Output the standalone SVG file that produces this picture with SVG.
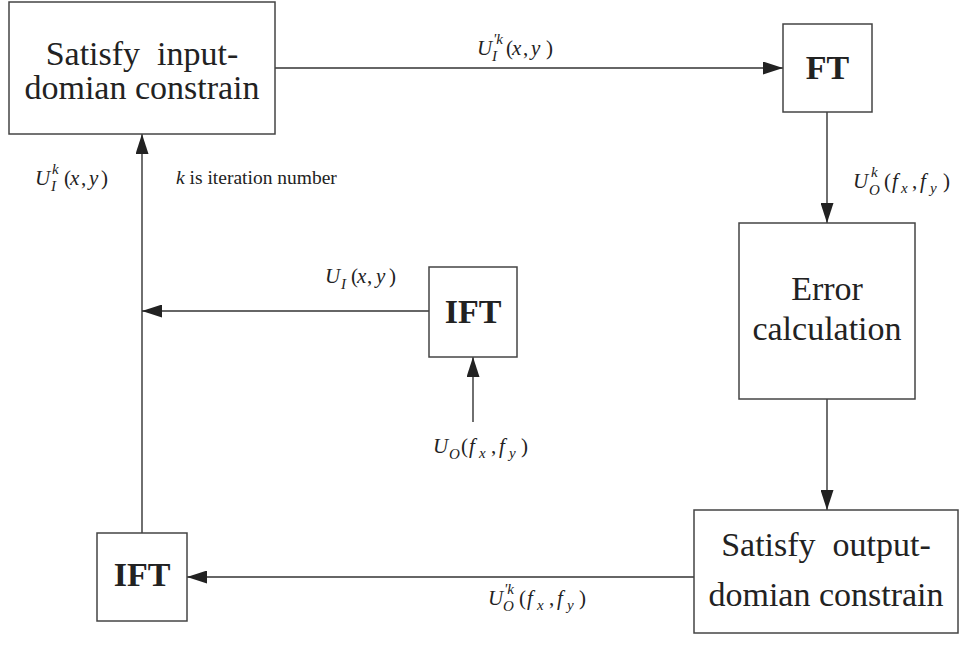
<svg xmlns="http://www.w3.org/2000/svg" width="961" height="646" viewBox="0 0 961 646">
<style>
text{font-family:'Liberation Serif','DejaVu Serif',serif;fill:#222}
.box{fill:#fff;stroke:#444;stroke-width:1.5}
.t{font-size:34px;text-anchor:middle}
.b{font-size:34px;font-weight:bold;text-anchor:middle}
.m{font-size:21px}
.s{font-size:15px;font-style:italic}
.i{font-style:italic}
.c{fill:none;stroke:#333;stroke-width:1.4}
</style>
<defs>
<marker id="ah" viewBox="0 0 20 13" refX="20" refY="6.5" markerWidth="20" markerHeight="13" orient="auto" markerUnits="userSpaceOnUse">
<path d="M0,0 L20,6.5 L0,13 z" fill="#222"/>
</marker>
</defs>
<rect width="961" height="646" fill="#fff"/>
<g id="connectors">
<line class="c" x1="275" y1="68" x2="783" y2="68" marker-end="url(#ah)"/>
<line class="c" x1="827" y1="112" x2="827" y2="223" marker-end="url(#ah)"/>
<line class="c" x1="827" y1="399" x2="827" y2="510" marker-end="url(#ah)"/>
<line class="c" x1="694" y1="577" x2="187" y2="577" marker-end="url(#ah)"/>
<line class="c" x1="142" y1="533" x2="142" y2="134" marker-end="url(#ah)"/>
<line class="c" x1="429" y1="311" x2="142" y2="311" marker-end="url(#ah)"/>
<line class="c" x1="473" y1="422" x2="473" y2="357" marker-end="url(#ah)"/>
</g>
<g id="labels">
<text class="m" y="55"><tspan class="i" x="477">U</tspan><tspan x="506">(</tspan><tspan class="i" x="512">x</tspan><tspan x="523">,</tspan><tspan class="i" x="531">y</tspan><tspan x="546">)</tspan></text>
<text class="s" x="493" y="44">'k</text><text class="s" x="492" y="61">I</text>

<text class="m" y="188"><tspan class="i" x="853">U</tspan><tspan x="884">(</tspan><tspan class="i" x="892">f</tspan><tspan x="912">,</tspan><tspan class="i" x="920">f</tspan><tspan x="943">)</tspan></text>
<text class="s" x="871" y="177">k</text><text class="s" x="869" y="195">O</text><text class="s" x="901" y="193">x</text><text class="s" x="930" y="193">y</text>

<text class="m" y="185"><tspan class="i" x="35">U</tspan><tspan x="64">(</tspan><tspan class="i" x="70">x</tspan><tspan x="81">,</tspan><tspan class="i" x="89">y</tspan><tspan x="101">)</tspan></text>
<text class="s" x="52" y="174">k</text><text class="s" x="51" y="191">I</text>

<text class="m" x="176" y="184" style="font-size:19.5px"><tspan class="i">k</tspan> is iteration number</text>

<text class="m" y="283"><tspan class="i" x="325">U</tspan><tspan x="351">(</tspan><tspan class="i" x="357">x</tspan><tspan x="367">,</tspan><tspan class="i" x="376">y</tspan><tspan x="389">)</tspan></text>
<text class="s" x="341" y="289">I</text>

<text class="m" y="453"><tspan class="i" x="433">U</tspan><tspan x="461">(</tspan><tspan class="i" x="469">f</tspan><tspan x="491">,</tspan><tspan class="i" x="499">f</tspan><tspan x="521">)</tspan></text>
<text class="s" x="449" y="459">O</text><text class="s" x="479" y="458">x</text><text class="s" x="509" y="458">y</text>

<text class="m" y="605"><tspan class="i" x="488">U</tspan><tspan x="519">(</tspan><tspan class="i" x="527">f</tspan><tspan x="549">,</tspan><tspan class="i" x="557">f</tspan><tspan x="579">)</tspan></text>
<text class="s" x="504" y="594">'k</text><text class="s" x="503" y="611">O</text><text class="s" x="537" y="610">x</text><text class="s" x="567" y="610">y</text>
</g>
<g id="input-constraint">
<rect class="box" x="9" y="2" width="266" height="132"/>
<text class="t" x="142" y="65" xml:space="preserve" style="white-space:pre">Satisfy  input-</text>
<text class="t" x="142" y="99">domian constrain</text>
</g>
<g id="ft">
<rect class="box" x="783" y="24" width="89" height="88"/>
<text class="b" x="827.5" y="79">FT</text>
</g>
<g id="error-calc">
<rect class="box" x="739" y="223" width="176" height="176"/>
<text class="t" x="827" y="300">Error</text>
<text class="t" x="827" y="340">calculation</text>
</g>
<g id="output-constraint">
<rect class="box" x="694" y="510" width="264" height="123"/>
<text class="t" x="826" y="556" xml:space="preserve" style="white-space:pre">Satisfy  output-</text>
<text class="t" x="826" y="606">domian constrain</text>
</g>
<g id="ift-mid">
<rect class="box" x="429" y="267" width="88" height="90"/>
<text class="b" x="473" y="323">IFT</text>
</g>
<g id="ift-bottom">
<rect class="box" x="97" y="533" width="90" height="88"/>
<text class="b" x="142" y="586">IFT</text>
</g>
</svg>
